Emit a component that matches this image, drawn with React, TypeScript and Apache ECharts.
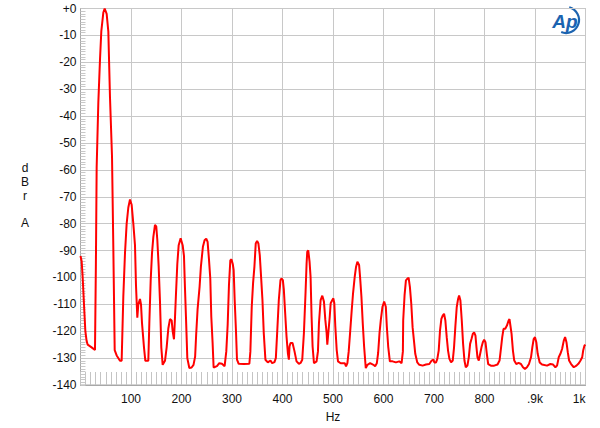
import React, { useEffect, useRef } from "react";
import * as echarts from "echarts";

const freqHz = [
  0, 2.3, 4.3, 6.9, 9.6, 12, 14.2, 22, 28.7, 30.5, 32, 35.3, 38.6, 41.2, 45.2, 47.9, 51.8, 55.1, 58.4, 62.4,
  65, 67.7, 71.6, 78.2, 81.5, 84.8, 88.1, 91.4, 94.7, 98, 101.3, 104.6, 107.9, 109.9, 112.5, 114.5, 117.8, 119.8,
  121.8, 125.7, 128.4, 134.3, 136.3, 139, 141.6, 144.2, 147.5, 150, 152.1, 154.8, 157.4, 160, 162.7, 167.3, 170.6,
  173.9, 177.2, 180.5, 182.5, 185.1, 187.1, 189.1, 191.7, 194.4, 198.3, 202.3, 204.9, 206.9, 208.9, 211.5, 215.5,
  220, 223.8, 227, 229, 231.8, 235.8, 238.4, 242.4, 245.7, 249, 251.7, 254.3, 257, 259, 261.6, 263.6, 270.2, 274.8,
  280.1, 285.4, 288.7, 291.4, 294, 296.7, 299, 301.5, 303.3, 305.3, 307.9, 309.9, 313.2, 323.2, 334.4, 336.4, 339.1,
  341.7, 344.4, 347, 349.7, 352.3, 355, 357.6, 360.3, 362.9, 366.2, 370.9, 376.2, 379.5, 384.1, 386.8, 389.4, 392.7,
  396, 398, 400.7, 402.6, 405.3, 408, 410.6, 412.6, 413.9, 415.9, 419.9, 423.8, 427.8, 432.5, 435.8, 439.1, 442.4,
  445.7, 447.7, 449, 451, 453.6, 455.6, 457.6, 459.6, 462.3, 467.5, 470.2, 472.2, 475.5, 478.8, 482.1, 484.8, 487.4,
  488.7, 490.7, 493.4, 495.4, 498.7, 500.7, 502.6, 504.6, 507.3, 509.9, 515.2, 523.2, 525.8, 528.5, 531.1, 533.8,
  537.1, 539.7, 543, 545.7, 548.3, 551.7, 553.6, 556.3, 558.9, 561.6, 564.9, 568.2, 573.5, 580.1, 583.4, 586.8,
  589.4, 592.1, 594.7, 598, 601.3, 604.6, 606.6, 609.3, 612.6, 617.9, 624.5, 631.1, 635.8, 638.4, 639, 641.7, 644.4,
  647, 649.7, 652.3, 655, 657.6, 660.3, 662.9, 666.9, 670.9, 677.5, 684.1, 690.7, 695.4, 698.7, 700.7, 704, 706.6,
  709.3, 711.9, 714.6, 717.2, 719.9, 722.5, 725.2, 727.8, 730.5, 733.8, 737.1, 739.7, 742.4, 745, 747.7, 749.7,
  752.3, 755, 757.6, 760.3, 762.9, 766.2, 768.9, 771.5, 774.2, 776.8, 779.5, 782.1, 784.1, 786.1, 788.7, 791.4, 794,
  796.7, 799.3, 802, 804.6, 807.3, 812.6, 819.2, 825.8, 829.8, 832.5, 835.1, 837.7, 841.1, 844.4, 847.7, 849.5, 851,
  853.6, 856.3, 858.9, 862.9, 867.5, 872.2, 876.2, 880.1, 884.1, 888.1, 892.1, 894.7, 897.4, 900, 902.6, 905.3,
  909.3, 913.9, 923.8, 930.5, 935.8, 940.4, 943.7, 947, 950.3, 953.6, 957, 959.6, 962.3, 964.9, 967.5, 971.5, 976.8,
  982.1, 986.8, 990.1, 993.4, 995.4, 998, 1000,
];

const levelDb = [
  -92, -94, -100, -110, -120, -123.5, -125, -126, -127, -94.5, -59, -35, -19, -8.5, -1.5, 0, -2, -8.5, -33, -55,
  -89, -127, -129, -131, -131, -107, -91, -80, -74, -71, -73, -80, -88, -103, -115, -110, -108, -110,
  -117, -126, -131, -131, -117, -101, -91, -85, -80.5, -81, -86, -96, -109, -126, -132.5, -131, -126,
  -119, -115.5, -116, -120, -123, -115, -106, -95, -88, -85.4, -88, -92, -104, -115, -130, -133.7,
  -133.5, -132.5, -129.4, -121.4, -112, -103.5, -96, -88.6, -86.2, -85.6, -86.8, -93, -100.4, -114.6, -124.4, -133.5, -133, -131.9,
  -132.1, -133, -127.5, -117.7, -102.8, -93.6, -93.3, -95, -97.3, -108.4, -120, -130.6, -132.1, -132.2, -132.1, -127.5, -110.9,
  -102.2, -96, -87.4, -86.4, -87.4, -91.7, -99.8, -108.4, -120.7, -130.6, -131.6, -130.9, -131.9, -131.5, -130, -120.7, -108.4,
  -101, -100.4, -101, -104.4, -113.3, -122, -128.1, -130.6, -125.7, -124.4, -124.4, -127.5, -131.2, -132.1, -131.8, -130.6, -120.7,
  -105.3, -94.8, -90.5, -89.9, -94.2, -99.8, -114.6, -125.7, -131.9, -131.2, -127.5, -117, -108.4, -106.8, -109, -115.8, -120.7,
  -125, -120.7, -115, -109.6, -108.4, -107.8, -109.6, -118.3, -126.9, -131.2, -131.9, -131.9, -133.1, -131.9, -127.5, -120.7,
  -112.1, -105.9, -99.8, -96, -94.2, -95.4, -99.8, -107.2, -117, -125.7, -133.7, -132.5, -131.9, -132.5, -133, -131.9,
  -128.1, -120.7, -115.8, -110.9, -109, -110.9, -118.3, -125.7, -131.2, -131.2, -131.6, -131.2, -131.9, -127.5, -116, -106.7, -101.1,
  -100.5, -100.1, -103.6, -109.8, -118.5, -123.5, -128.4, -131.6, -132.5, -132.8, -132.4, -132.2, -130.9, -130.6, -131.6, -131.6, -130.3,
  -127.2, -119.8, -115.4, -114.2, -113.5, -116, -122.2, -127.2, -130.3, -131.6, -130.9, -126, -117.9, -111.1, -108, -106.7,
  -108.6, -116, -124.7, -130.9, -133.4, -132.8, -129.7, -124.7, -122.9, -121, -120.4, -121.6, -126, -129.7, -130.9, -128.4, -126,
  -124.1, -123.2, -124.1, -128.4, -132.2, -132.8, -132.8, -132.4, -130.9, -126.6, -122.2, -119.1, -119.1, -117.9, -116, -115.5, -117.5,
  -121, -127.2, -130.9, -132.2, -131.8, -132.2, -133.4, -134, -133.4, -132.2, -129.7, -126, -122.9, -122.2, -124.1, -128.4,
  -131.6, -132.4, -132.8, -132.2, -132.4, -133.4, -132.8, -129.7, -128.4, -126.6, -123.5, -122.2, -124.1, -127.8, -130.9, -132.2, -133.4,
  -132.8, -131.9, -130.9, -129.7, -127.2, -125.3, -125,
];

const xTickLabels: Record<number, string> = {
  0: "",
  100: "100",
  200: "200",
  300: "300",
  400: "400",
  500: "500",
  600: "600",
  700: "700",
  800: "800",
  900: ".9k",
  1000: "1k",
};

const yUnitLetters = ["d", "B", "r", "", "A"];

const FONT = "'Liberation Sans', Arial, sans-serif";

export default function App() {
  const ref = useRef<HTMLDivElement>(null);

  useEffect(() => {
    if (!ref.current) return;
    const chart = echarts.init(ref.current, null, { renderer: "svg" });
    const data = freqHz.map((f, i) => [f, levelDb[i]]);

    const letterEls = yUnitLetters
      .map((t, i) => ({ t, i }))
      .filter((o) => o.t !== "")
      .map((o) => ({
        type: "text",
        x: 25,
        y: 168 + o.i * 13.8,
        style: {
          text: o.t,
          fill: "#111",
          font: `12px ${FONT}`,
          textAlign: "center",
          textVerticalAlign: "middle",
        },
      }));

    chart.setOption({
      animation: false,
      backgroundColor: "#ffffff",
      grid: {
        left: 80.5,
        right: 14.5,
        top: 8.5,
        bottom: 43,
        show: true,
        borderColor: "#a8a8a8",
        borderWidth: 1,
        outerBoundsMode: "none",
      },
      xAxis: {
        type: "value",
        min: 0,
        max: 1000,
        interval: 100,
        name: "Hz",
        nameLocation: "middle",
        nameGap: 26,
        nameTextStyle: { color: "#111", fontSize: 12, fontFamily: FONT },
        axisLine: { show: true, onZero: false, lineStyle: { color: "#a8a8a8", width: 1 } },
        axisTick: { show: true, inside: true, length: 13, lineStyle: { color: "#c4c4c4", width: 1 } },
        minorTick: { show: true, splitNumber: 10, length: 13, lineStyle: { color: "#c4c4c4", width: 1 } },
        splitLine: { show: true, lineStyle: { color: "#c8c8c8", width: 1 } },
        axisLabel: {
          color: "#111",
          fontSize: 12,
          fontFamily: FONT,
          margin: 8,
          alignMaxLabel: "right",
          formatter: (v: number) => xTickLabels[Math.round(v)] ?? "",
        },
      },
      yAxis: {
        type: "value",
        min: -140,
        max: 0,
        interval: 10,
        axisLine: { show: true, onZero: false, lineStyle: { color: "#a8a8a8", width: 1 } },
        axisTick: { show: true, inside: true, length: 5, lineStyle: { color: "#c4c4c4", width: 1 } },
        minorTick: { show: true, splitNumber: 10, length: 5, lineStyle: { color: "#c8c8c8", width: 1 } },
        splitLine: { show: true, lineStyle: { color: "#c8c8c8", width: 1 } },
        axisLabel: {
          color: "#111",
          fontSize: 12,
          fontFamily: FONT,
          margin: 4,
          formatter: (v: number) => (v === 0 ? "+0" : String(v)),
        },
      },
      graphic: [
        ...letterEls,
        {
          type: "arc",
          shape: { cx: 566, cy: 20, r: 13, startAngle: -Math.PI * 0.42, endAngle: Math.PI * 0.62 },
          style: { stroke: "#1b63b0", lineWidth: 2.2, fill: "none" },
        },
        {
          type: "text",
          x: 565,
          y: 21,
          style: {
            text: "Ap",
            fill: "#1b63b0",
            font: `italic bold 19px ${FONT}`,
            textAlign: "center",
            textVerticalAlign: "middle",
          },
        },
      ],
      series: [
        {
          type: "line",
          data,
          showSymbol: false,
          symbol: "none",
          lineStyle: { color: "#ff0000", width: 2 },
          clip: true,
          z: 5,
        },
      ],
    });

    return () => chart.dispose();
  }, []);

  return (
    <div
      ref={ref}
      style={{ position: "fixed", left: 0, top: 0, width: 600, height: 428, background: "#fff" }}
    />
  );
}
